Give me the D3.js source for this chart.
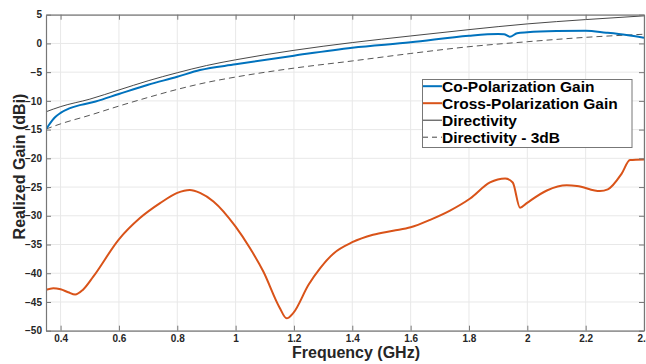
<!DOCTYPE html>
<html>
<head>
<meta charset="utf-8">
<script src="https://cdnjs.cloudflare.com/ajax/libs/d3/7.8.5/d3.min.js"></script>
<style>
body { margin: 0; background: #fff; }
svg { display: block; font-family: "Liberation Sans", Arial, Helvetica, sans-serif; }
</style>
</head>
<body>
<svg id="chart" width="646" height="364"></svg>
<script>
// values
var coFreq = [0.35, 0.36, 0.38, 0.40, 0.43, 0.47, 0.52, 0.60, 0.70, 0.80, 0.878, 1.0, 1.2, 1.4, 1.6, 1.8, 1.90, 1.92, 1.94, 1.965, 2.0, 2.1, 2.2, 2.27, 2.34, 2.4];
var coGain = [-14.95, -14.2, -12.9, -12.1, -11.3, -10.7, -10.1, -8.8, -7.2, -5.8, -4.63, -3.64, -2.13, -0.74, 0.19, 1.35, 1.62, 1.6, 1.17, 1.76, 1.93, 2.15, 2.2, 1.87, 1.47, 1.0];

var crossFreq = [0.35, 0.375, 0.40, 0.426, 0.45, 0.476, 0.512, 0.60, 0.672, 0.741, 0.80, 0.843, 0.878, 0.924, 1.0, 1.05, 1.095, 1.15, 1.175, 1.198, 1.25, 1.29, 1.337, 1.40, 1.471, 1.54, 1.60, 1.667, 1.735, 1.804, 1.872, 1.924, 1.95, 1.975, 1.998, 2.067, 2.135, 2.17, 2.249, 2.276, 2.323, 2.352, 2.4];
var crossGain = [-42.9, -42.6, -42.8, -43.3, -43.7, -42.9, -40.6, -34.1, -30.4, -27.8, -26.0, -25.5, -26.0, -27.5, -31.9, -35.7, -39.7, -45.9, -47.85, -46.9, -42.0, -39.1, -36.5, -34.6, -33.3, -32.6, -32.0, -30.7, -29.1, -27.0, -24.2, -23.5, -24.2, -28.6, -27.8, -25.6, -24.7, -24.8, -25.7, -25.4, -22.7, -20.3, -20.2];

var dirFreq = [0.35, 0.40, 0.50, 0.60, 0.70, 0.80, 0.90, 1.0, 1.2, 1.4, 1.6, 1.8, 2.0, 2.2, 2.4];
var directivity = [-11.9, -11.0, -9.7, -8.1, -6.5, -5.1, -3.85, -2.85, -1.2, 0.15, 1.3, 2.4, 3.4, 4.15, 4.8];
var directivity3dB = [-14.9, -14.0, -12.5, -10.9, -9.4, -8.0, -6.8, -5.85, -4.3, -3.05, -1.75, -0.57, 0.3, 1.06, 1.6];

var xTicks = [0.4, 0.6, 0.8, 1, 1.2, 1.4, 1.6, 1.8, 2, 2.2, 2.4];
var yTicks = [-50, -45, -40, -35, -30, -25, -20, -15, -10, -5, 0, 5];

var seriesNames = ["Co-Polarization Gain", "Cross-Polarization Gain", "Directivity", "Directivity - 3dB"];

d3.select(window).on('load', init);

function init() {
    var svg = d3.select('#chart');
    var left = 46, right = 644, top = 14.7, bottom = 330.7;

    var xScale = d3.scaleLinear().domain([0.35, 2.4]).range([left, right]);
    var yScale = d3.scaleLinear().domain([-50, 5]).range([bottom, top]);

    // grid
    svg.append("g").selectAll("line")
        .data(xTicks).enter().append("line")
        .attr("x1", function(d) { return xScale(d); })
        .attr("x2", function(d) { return xScale(d); })
        .attr("y1", top).attr("y2", bottom)
        .attr("stroke", "#e8e8e8");
    svg.append("g").selectAll("line")
        .data(yTicks).enter().append("line")
        .attr("y1", function(d) { return yScale(d); })
        .attr("y2", function(d) { return yScale(d); })
        .attr("x1", left).attr("x2", right)
        .attr("stroke", "#e8e8e8");

    svg.append("clipPath").attr("id", "clip")
        .append("rect").attr("x", left).attr("y", top)
        .attr("width", right - left).attr("height", bottom - top);

    var plot = svg.append("g").attr("clip-path", "url(#clip)");

    function drawLine(xs, ys, color, width, dash) {
        var pts = xs.map(function(v, i) { return [v, ys[i]]; });
        var line = d3.line()
            .x(function(d) { return xScale(d[0]); })
            .y(function(d) { return yScale(d[1]); })
            .curve(d3.curveMonotoneX);
        plot.append("path")
            .datum(pts)
            .attr("d", line)
            .attr("fill", "none")
            .attr("stroke", color)
            .attr("stroke-width", width)
            .attr("stroke-dasharray", dash)
            .attr("stroke-linejoin", "round");
    }

    drawLine(dirFreq, directivity, "#333333", 0.9, null);
    drawLine(dirFreq, directivity3dB, "#444444", 0.9, "6,4");
    drawLine(crossFreq, crossGain, "#D95319", 2, null);
    drawLine(coFreq, coGain, "#0072BD", 2, null);

    // axes, matlab style with inner ticks on all sides
    var xAxis = d3.axisBottom(xScale).tickValues(xTicks).tickSize(-5).tickSizeOuter(0).tickPadding(4)
        .tickFormat(function(d) { return d3.format("")(d); });
    var yAxis = d3.axisLeft(yScale).tickValues(yTicks).tickSize(-5).tickSizeOuter(0).tickPadding(4);

    var gx = svg.append("g").attr("transform", "translate(0," + bottom + ")").call(xAxis);
    var gy = svg.append("g").attr("transform", "translate(" + left + ",0)").call(yAxis);
    var gt = svg.append("g").attr("transform", "translate(0," + top + ")")
        .call(d3.axisTop(xScale).tickValues(xTicks).tickSize(-5).tickSizeOuter(0).tickFormat(""));
    var gr = svg.append("g").attr("transform", "translate(" + right + ",0)")
        .call(d3.axisRight(yScale).tickValues(yTicks).tickSize(-5).tickSizeOuter(0).tickFormat(""));

    [gx, gy, gt, gr].forEach(function(g) {
        g.select(".domain").attr("stroke", "#777").attr("stroke-width", 1.2);
        g.selectAll(".tick line").attr("stroke", "#777");
        g.selectAll("text")
            .attr("fill", "#262626")
            .style("font-size", "10px")
            .style("font-weight", "bold")
            .style("font-family", '"Liberation Sans", Arial, sans-serif');
    });

    // labels
    svg.append("text")
        .attr("x", 356)
        .attr("y", 357.5)
        .attr("text-anchor", "middle")
        .style("font-size", "16px")
        .style("font-weight", "bold")
        .attr("fill", "#262626")
        .text("Frequency (GHz)");

    svg.append("text")
        .attr("transform", "translate(24.5,166.5) rotate(-90)")
        .attr("text-anchor", "middle")
        .style("font-size", "16px")
        .style("font-weight", "bold")
        .attr("fill", "#262626")
        .text("Realized Gain (dBi)");

    // legend
    var legend = svg.append("g");
    legend.append("rect")
        .attr("x", 422.5).attr("y", 79.5)
        .attr("width", 209.5).attr("height", 68)
        .attr("fill", "#fff")
        .attr("stroke", "#777");

    var legendColors = ["#0072BD", "#D95319", "#333333", "#444444"];
    var legendWidths = [2, 2, 1, 1];
    var legendDash = [null, null, null, "5,4"];

    seriesNames.forEach(function(name, i) {
        var base = 91.7 + i * 17;
        legend.append("line")
            .attr("x1", 423).attr("x2", 442)
            .attr("y1", base - 5.5).attr("y2", base - 5.5)
            .attr("stroke", legendColors[i])
            .attr("stroke-width", legendWidths[i])
            .attr("stroke-dasharray", legendDash[i]);
        legend.append("text")
            .attr("x", 442)
            .attr("y", base)
            .style("font-size", "15.5px")
            .style("font-weight", "bold")
            .attr("fill", "#000")
            .text(name);
    });
}
</script>
</body>
</html>
